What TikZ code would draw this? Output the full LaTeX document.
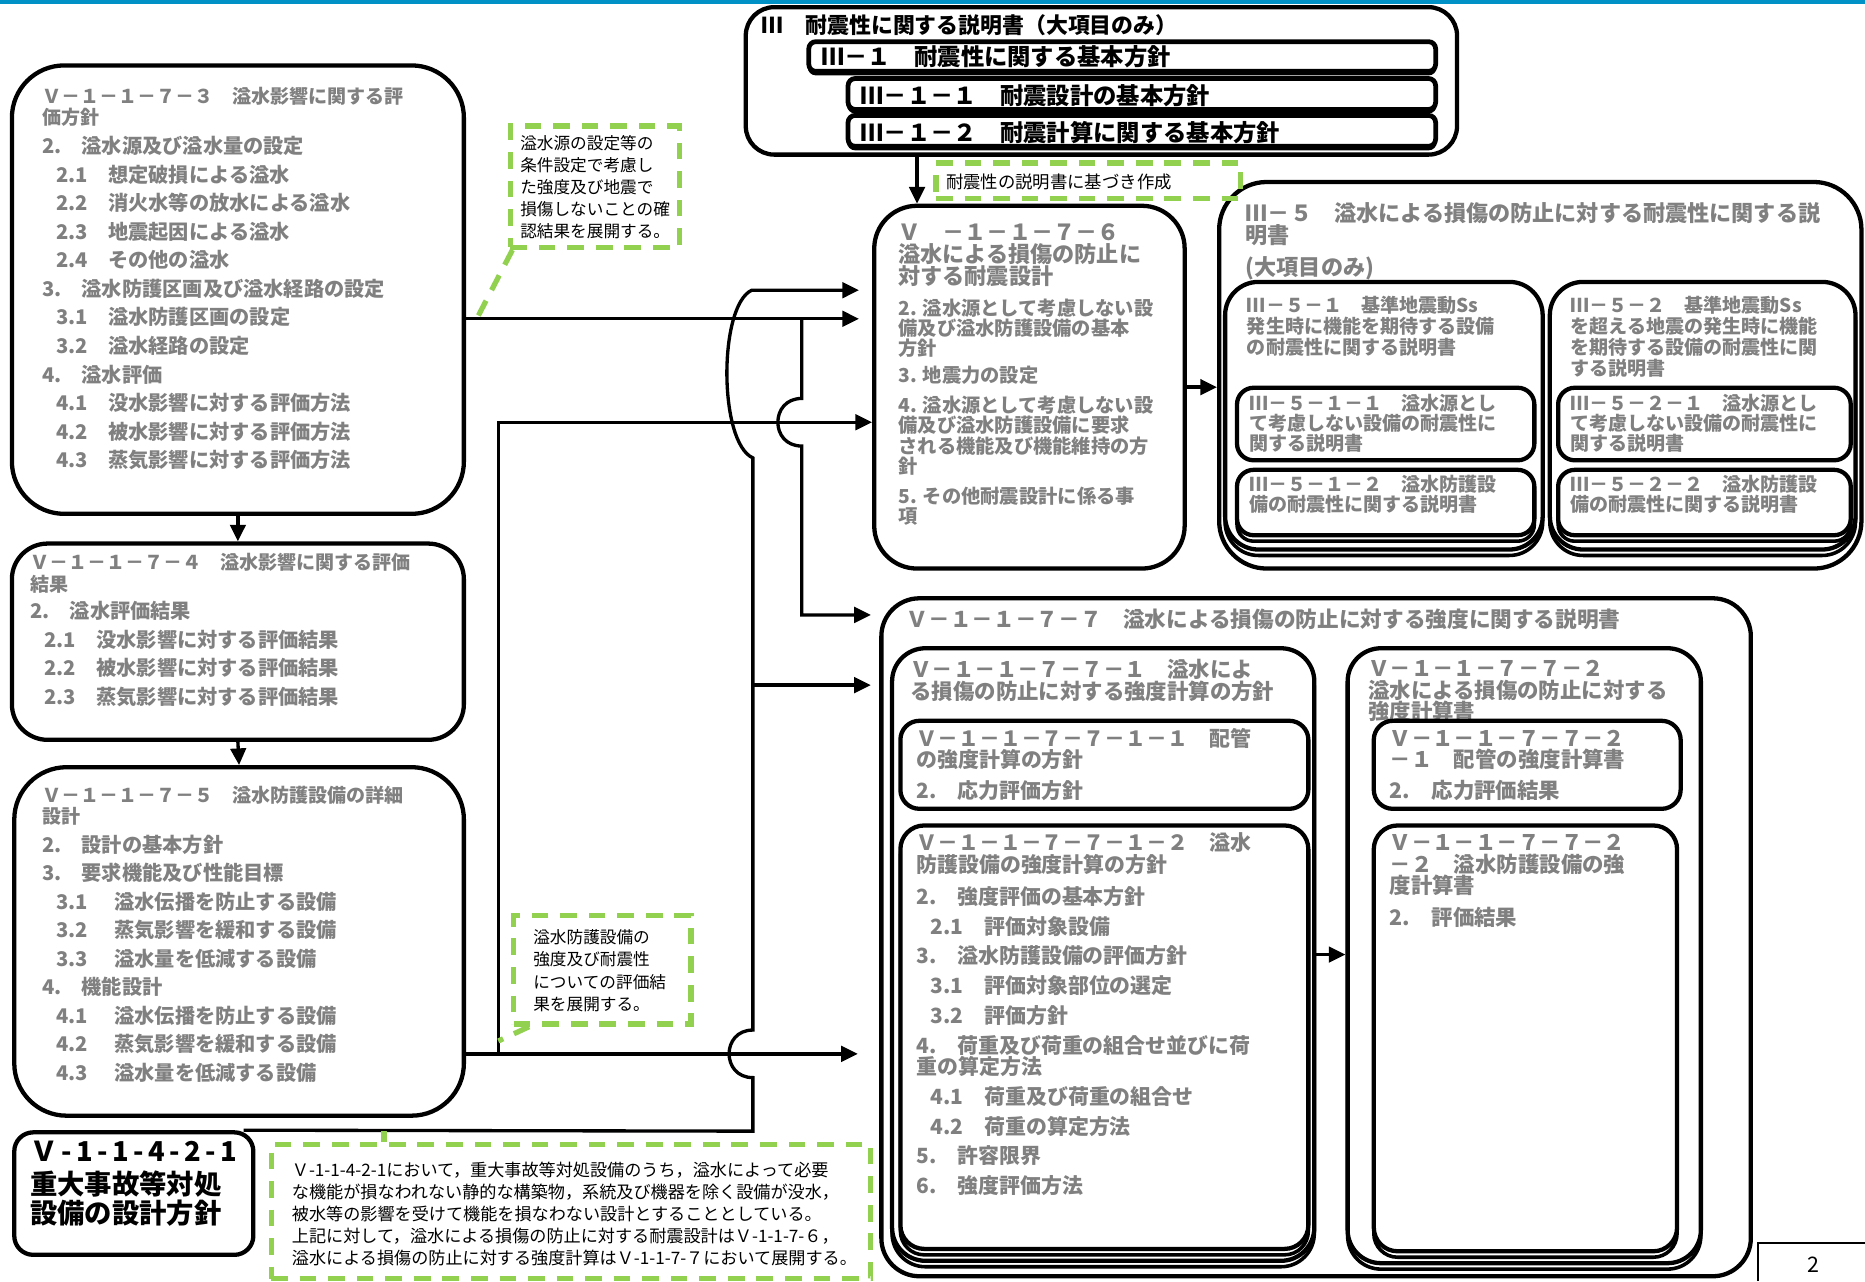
\documentclass[tikz,border=0pt]{standalone}
\usepackage{fontspec}
\setmainfont{Noto Sans CJK JP}
\usepackage{xcolor}
\usetikzlibrary{arrows.meta,shadows}

\definecolor{txtgray}{RGB}{128,128,128}
\definecolor{notegreen}{RGB}{146,208,80}
\definecolor{barblue}{RGB}{0,146,199}
\newcommand{\setfs}[2]{\fontsize{#1}{#2}\selectfont}
\newcommand{\subind}{\hspace*{6pt}}

\tikzset{
  docbox/.style={draw, line width=1.8pt, rounded corners=#1, fill=white, inner sep=0pt},
  docbox/.default=14pt,
  stackbox/.style={docbox=#1, copy shadow={shadow xshift=0pt, shadow yshift=-2.5pt, draw=black, line width=1.5pt, fill=white}},
  stackbox/.default=14pt,
  notebox/.style={draw=notegreen, line width=2.2pt, dash pattern=on 7pt off 5pt, inner sep=0pt},
  noteline/.style={draw=notegreen, line width=2.2pt, dash pattern=on 7pt off 5pt},
  graytext/.style={text=txtgray, inner sep=0pt, anchor=north west, align=left},
  blacktext/.style={text=black, inner sep=0pt, anchor=north west, align=left},
  conn/.style={line width=1.4pt, -{Triangle[length=7pt,width=6.5pt]}},
  link/.style={line width=1.4pt},
}

\begin{document}
\begin{tikzpicture}[x=0.5pt,y=-0.5pt]
\useasboundingbox (0,0) rectangle (1568,1077);
\fill[barblue] (0,0) rectangle (1568,3);

% left column
\node[docbox=22pt, minimum width=190pt, minimum height=188.5pt] (b73) at (200,243.5) {};
\node[graytext, font=\bfseries\setfs{8}{9}] (t73a) at (35,72.8) {Ｖ－１－１－７－３　溢水影響に関する評\\価方針};
\node[graytext, font=\bfseries\setfs{8.5}{12}] (t73b) at (35,114.3) {2.　溢水源及び溢水量の設定\\
\subind 2.1　想定破損による溢水\\
\subind 2.2　消火水等の放水による溢水\\
\subind 2.3　地震起因による溢水\\
\subind 2.4　その他の溢水\\
3.　溢水防護区画及び溢水経路の設定\\
\subind 3.1　溢水防護区画の設定\\
\subind 3.2　溢水経路の設定\\
4.　溢水評価\\
\subind 4.1　没水影響に対する評価方法\\
\subind 4.2　被水影響に対する評価方法\\
\subind 4.3　蒸気影響に対する評価方法};

\node[docbox=15pt, minimum width=190pt, minimum height=82.5pt] (b74) at (200,539.5) {};
\node[graytext, font=\bfseries\setfs{8}{9}] (t74a) at (25,464.8) {Ｖ－１－１－７－４　溢水影響に関する評価\\結果};
\node[graytext, font=\bfseries\setfs{8.5}{12}] (t74b) at (25,505.3) {2.　溢水評価結果\\
\subind 2.1　没水影響に対する評価結果\\
\subind 2.2　被水影響に対する評価結果\\
\subind 2.3　蒸気影響に対する評価結果};

\node[docbox=22pt, minimum width=189pt, minimum height=146.5pt] (b75) at (201,791.5) {};
\node[graytext, font=\bfseries\setfs{8}{8.5}] (t75a) at (35,660.8) {Ｖ－１－１－７－５　溢水防護設備の詳細\\設計};
\node[graytext, font=\bfseries\setfs{8.5}{12}] (t75b) at (35,701.3) {2.　設計の基本方針\\
3.　要求機能及び性能目標\\
\subind 3.1\hspace{1.3em}溢水伝播を防止する設備\\
\subind 3.2\hspace{1.3em}蒸気影響を緩和する設備\\
\subind 3.3\hspace{1.3em}溢水量を低減する設備\\
4.　機能設計\\
\subind 4.1\hspace{1.3em}溢水伝播を防止する設備\\
\subind 4.2\hspace{1.3em}蒸気影響を緩和する設備\\
\subind 4.3\hspace{1.3em}溢水量を低減する設備};

\node[docbox=8pt, minimum width=100.5pt, minimum height=51.5pt] (b4221) at (112.5,1003.5) {};
\node[blacktext, font=\bfseries\setfs{11.5}{11}] (t4221) at (25,958.5) {{\addfontfeatures{LetterSpace=16}Ｖ-1-1-4-2-1}\\[3pt]重大事故等対処\\設備の設計方針};

% top document
\node[docbox=12pt, minimum width=299pt, minimum height=62pt] (bIII) at (926,68) {};
\node[blacktext, font=\bfseries\setfs{9.2}{10}] (tIII) at (640,11.7) {Ⅲ　耐震性に関する説明書（大項目のみ）};
\node[docbox=3pt, line width=2pt, copy shadow={shadow xshift=0pt, shadow yshift=-1.2pt, draw=black, line width=1pt, fill=white}, minimum width=263.5pt, minimum height=12.5pt] (bIII1) at (943.5,47.5) {};
\node[blacktext, font=\bfseries\setfs{9.8}{10}] (tIII1) at (690,38.2) {Ⅲ－１　耐震性に関する基本方針};
\node[docbox=3pt, line width=2pt, copy shadow={shadow xshift=0pt, shadow yshift=-1.2pt, draw=black, line width=1pt, fill=white}, minimum width=247pt, minimum height=13pt] (bIII11) at (960,79) {};
\node[blacktext, font=\bfseries\setfs{9.8}{10}] (tIII11) at (723,70.2) {Ⅲ－１－１　耐震設計の基本方針};
\node[docbox=3pt, line width=2pt, copy shadow={shadow xshift=0pt, shadow yshift=-1.2pt, draw=black, line width=1pt, fill=white}, minimum width=247pt, minimum height=13pt] (bIII12) at (960,110) {};
\node[blacktext, font=\bfseries\setfs{9.8}{10}] (tIII12) at (723,101.2) {Ⅲ－１－２　耐震計算に関する基本方針};

% seismic design
\node[docbox=18pt, minimum width=130.5pt, minimum height=152.5pt] (b76) at (865.5,325.5) {};
\node[graytext, font=\bfseries\setfs{9.3}{9.25}] (t76a) at (755,188) {Ｖ　－１－１－７－６\\溢水による損傷の防止に\\対する耐震設計};
\node[graytext, font=\bfseries\setfs{8.1}{8.5}] (t76b) at (755,250.7) {2. 溢水源として考慮しない設\\備及び溢水防護設備の基本\\方針\\[3pt]
3. 地震力の設定\\[4pt]
4. 溢水源として考慮しない設\\備及び溢水防護設備に要求\\される機能及び機能維持の方\\針\\[4pt]
5. その他耐震設計に係る事\\項};

\node[docbox=20pt, minimum width=270pt, minimum height=162.5pt] (bIII5) at (1295,315.5) {};
\node[graytext, font=\bfseries\setfs{9.3}{9.5}] (tIII5) at (1047,169.6) {Ⅲ－５　溢水による損傷の防止に対する耐震性に関する説\\明書\\[4pt](大項目のみ)};
\node[stackbox=14pt, minimum width=133.5pt, minimum height=112.5pt] (bIII51) at (1163.5,349.5) {};
\node[graytext, font=\bfseries\setfs{8}{8.75}] (tIII51) at (1048,248.8) {Ⅲ－５－１　基準地震動Ss\\発生時に機能を期待する設備\\の耐震性に関する説明書};
\node[docbox=7pt, minimum width=125pt, minimum height=30.5pt] (bIII511) at (1165,356.5) {};
\node[graytext, font=\bfseries\setfs{8}{8.5}] (tIII511) at (1050,330.8) {Ⅲ－５－１－１　溢水源とし\\て考慮しない設備の耐震性に\\関する説明書};
\node[stackbox=7pt, minimum width=125pt, minimum height=27.5pt] (bIII512) at (1165,422.5) {};
\node[graytext, font=\bfseries\setfs{8}{8.5}] (tIII512) at (1050,398.8) {Ⅲ－５－１－２　溢水防護設\\備の耐震性に関する説明書};
\node[stackbox=14pt, minimum width=128.5pt, minimum height=112.5pt] (bIII52) at (1431.5,349.5) {};
\node[graytext, font=\bfseries\setfs{8}{8.75}] (tIII52) at (1320,248.8) {Ⅲ－５－２　基準地震動Ss\\を超える地震の発生時に機能\\を期待する設備の耐震性に関\\する説明書};
\node[docbox=7pt, minimum width=123pt, minimum height=30.5pt] (bIII521) at (1433,356.5) {};
\node[graytext, font=\bfseries\setfs{8}{8.5}] (tIII521) at (1320,330.8) {Ⅲ－５－２－１　溢水源とし\\て考慮しない設備の耐震性に\\関する説明書};
\node[stackbox=7pt, minimum width=123pt, minimum height=27.5pt] (bIII522) at (1433,422.5) {};
\node[graytext, font=\bfseries\setfs{8}{8.5}] (tIII522) at (1320,398.8) {Ⅲ－５－２－２　溢水防護設\\備の耐震性に関する説明書};

% strength calculation
\node[docbox=16pt, minimum width=365.5pt, minimum height=285pt] (b77) at (1106.5,788) {};
\node[graytext, font=\bfseries\setfs{9.1}{10}] (t77) at (762,511.8) {Ｖ－１－１－７－７　溢水による損傷の防止に対する強度に関する説明書};
\node[stackbox=14pt, minimum width=177.5pt, minimum height=257.5pt] (b771) at (927.5,802.5) {};
\node[graytext, font=\bfseries\setfs{9}{9}] (t771) at (765,554) {Ｖ－１－１－７－７－１　溢水によ\\る損傷の防止に対する強度計算の方針};
\node[docbox=8pt, minimum width=171.5pt, minimum height=37pt] (b7711) at (928.5,643) {};
\node[graytext, font=\bfseries\setfs{8.8}{9}] (t7711) at (770,612) {Ｖ－１－１－７－７－１－１　配管\\の強度計算の方針\\[4pt]2.　応力評価方針};
\node[stackbox=10pt, minimum width=171.5pt, minimum height=178pt] (b7712) at (928.5,872) {};
\node[graytext, font=\bfseries\setfs{8.8}{9}] (t7712) at (770,700) {Ｖ－１－１－７－７－１－２　溢水\\防護設備の強度計算の方針\\[4.5pt]
2.　強度評価の基本方針\\[3.5pt]
\subind 2.1　評価対象設備\\[3.5pt]
3.　溢水防護設備の評価方針\\[3.5pt]
\subind 3.1　評価対象部位の選定\\[3.5pt]
\subind 3.2　評価方針\\[3.5pt]
4.　荷重及び荷重の組合せ並びに荷\\重の算定方法\\[3.5pt]
\subind 4.1　荷重及び荷重の組合せ\\[3.5pt]
\subind 4.2　荷重の算定方法\\[3.5pt]
5.　許容限界\\[3.5pt]
6.　強度評価方法};

\node[stackbox=14pt, minimum width=148.5pt, minimum height=258.5pt] (b772) at (1281.5,803.5) {};
\node[graytext, font=\bfseries\setfs{9}{9}] (t772) at (1150,555) {Ｖ－１－１－７－７－２\\溢水による損傷の防止に対する\\強度計算書};
\node[docbox=8pt, minimum width=129pt, minimum height=37pt] (b7721) at (1284,643) {};
\node[graytext, font=\bfseries\setfs{9}{9}] (t7721) at (1168,613.3) {Ｖ－１－１－７－７－２\\－１　配管の強度計算書\\[4pt]2.　応力評価結果};
\node[stackbox=10pt, minimum width=127.5pt, minimum height=179pt] (b7722) at (1282.5,873) {};
\node[graytext, font=\bfseries\setfs{9}{9}] (t7722) at (1168,701.3) {Ｖ－１－１－７－７－２\\－２　溢水防護設備の強\\度計算書\\[4.5pt]2.　評価結果};

% notes
\node[notebox, minimum width=71pt, minimum height=51pt] (g1) at (500,157) {};
\node[blacktext, font=\setfs{7}{9.25}] (tg1) at (437,113.7) {溢水源の設定等の\\条件設定で考慮し\\た強度及び地震で\\損傷しないことの確\\認結果を展開する。};
\node[notebox, minimum width=128pt, minimum height=15pt] (g2) at (915,152) {};
\node[blacktext, font=\setfs{7.3}{8}] (tg2) at (795,145.4) {耐震性の説明書に基づき作成};
\node[notebox, minimum width=74.5pt, minimum height=45.5pt] (g3) at (506.5,815.5) {};
\node[blacktext, font=\setfs{7}{9.5}] (tg3) at (448,780.7) {溢水防護設備の\\強度及び耐震性\\についての評価結\\果を展開する。};
\node[notebox, minimum width=252pt, minimum height=56.5pt] (g4) at (480,1018.5) {};
\node[blacktext, font=\setfs{7.2}{9.25}] (tg4) at (245,976.5) {Ｖ-1-1-4-2-1において，重大事故等対処設備のうち，溢水によって必要\\な機能が損なわれない静的な構築物，系統及び機器を除く設備が没水，\\被水等の影響を受けて機能を損なわない設計とすることとしている。\\上記に対して，溢水による損傷の防止に対する耐震設計はＶ-1-1-7-６，\\溢水による損傷の防止に対する強度計算はＶ-1-1-7-７において展開する。};

% page number
\draw[line width=1pt] (1478,1077) -- (1478,1045) -- (1568,1045);
\node[inner sep=0pt, font=\setfs{9}{10}] (pg) at (1525,1063) {2};

% connectors
\coordinate (yA) at (0,244);
\coordinate (yB) at (0,268);
\coordinate (yC) at (0,355);
\coordinate (yD) at (0,517);
\coordinate (yE) at (0,576);
\coordinate (yF) at (0,886);
\coordinate (yG) at (0,951);
\coordinate (xBr) at (633,0);
\coordinate (xJp) at (674,0);
\coordinate (xLf) at (419,0);
\coordinate (xTop) at (771,0);
\coordinate (in76) at ([xshift=-5.5pt]b76.west);
\coordinate (in77) at ([xshift=-3.5pt]b77.west);
\coordinate (in77b) at ([xshift=-9pt]b77.west);

\draw[conn] (b73.south) -- (b74.north);
\draw[conn] (b74.south) -- (b75.north);
\draw[conn] (xTop |- bIII.south) -- (xTop |- b76.north);
\draw[conn] (b76.east) -- (b76.east -| bIII5.west);
\draw[conn] (b771.east) -- (b771.east -| b772.west);

\draw[conn] (b73.east |- yB) -- (in76 |- yB);
\draw[conn] (xJp |- yB) -- (674,335) .. controls (647.3,335) and (647.3,375) .. (674,375) -- (xJp |- yD) -- (in77 |- yD);
\draw[conn] ([xshift=-5pt]b4221.north east) -- (xBr |- yG) -- (633,906) .. controls (606.3,906) and (606.3,866) .. (633,866) -- (633,385) .. controls (604,372) and (604,257) .. (632,244) -- (in76 |- yA);
\draw[conn] (xBr |- yE) -- (in77 |- yE);
\draw[conn] (b75.east |- yF) -- (in77b |- yF);
\draw[conn] (xLf |- yF) -- (xLf |- yC) -- (b76.west |- yC);

% note pointers
\coordinate (p1) at ([xshift=2pt]g1.south west);
\draw[noteline] (p1) -- ([xshift=-13pt]g1.south west |- yB);
\coordinate (p2) at ([xshift=7.5pt]g3.south west);
\draw[noteline] (p2) -- ([yshift=-6pt]g3.south west -| xLf);
\coordinate (p3) at ([xshift=48.5pt]g4.north west);
\draw[noteline] (p3) -- (p3 |- yG);
\end{tikzpicture}
\end{document}
